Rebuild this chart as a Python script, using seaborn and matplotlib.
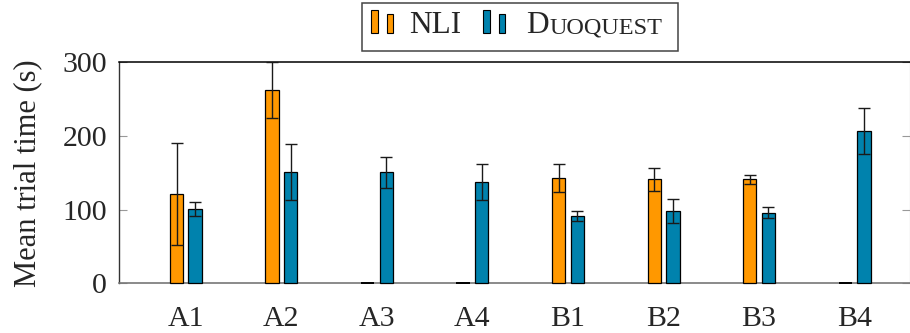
import numpy as np
import pandas as pd
import matplotlib
matplotlib.use("Agg")
import matplotlib.pyplot as plt
from matplotlib.patches import Rectangle
import seaborn as sns

# Mean trial time per task, with standard-deviation error bars
categories = ["A1", "A2", "A3", "A4", "B1", "B2", "B3", "B4"]
nli_mean = [121, 263, 0, 0, 143, 141, 141, 0]
nli_err = [69, 38, np.nan, np.nan, 18.5, 15.5, 6, np.nan]
duo_mean = [101, 151, 151, 138, 91, 98, 96, 207]
duo_err = [9.5, 38, 21, 24.5, 6.5, 16.5, 7, 31]
systems = ["NLI", "Duoquest"]
y_ticks = [0, 100, 200, 300]

ORANGE = "#FF9800"
BLUE = "#0082AD"

sns.set_theme(style="white")
plt.rcParams["font.family"] = ["Liberation Serif", "DejaVu Serif"]

df = pd.DataFrame({
    "task": categories * 2,
    "system": [systems[0]] * len(categories) + [systems[1]] * len(categories),
    "time": nli_mean + duo_mean,
})

W, H = 910, 333
fig = plt.figure(figsize=(W / 100, H / 100), dpi=100)
ax = fig.add_axes([119 / W, (H - 283.3) / H, (W - 119) / W, 221 / H])

sns.barplot(data=df, x="task", y="time", hue="system", order=categories,
            hue_order=systems, palette=[ORANGE, BLUE], width=0.39, gap=0.28,
            errorbar=None, edgecolor="black", linewidth=0.9, saturation=1,
            legend=False, ax=ax)

# keep zero-height bars visible as a black stroke on the baseline
for bar in ax.patches:
    bar.set_zorder(3)
    bar.set_clip_on(False)
    if bar.get_height() == 0:
        bar.set_linewidth(1.4)

# error bars placed on the bar centres
for container, errs in zip(ax.containers, [nli_err, duo_err]):
    xs = [b.get_x() + b.get_width() / 2 for b in container]
    ys = [b.get_height() for b in container]
    ax.errorbar(xs, ys, yerr=errs, fmt="none", ecolor="#1a1a1a",
                elinewidth=1.0, capsize=4.2, capthick=1.0, zorder=5)

ax.set_xlim(-0.70, 7.58)
ax.set_ylim(0, 300)
ax.set_yticks(y_ticks)
ax.set_xlabel("")
ax.set_ylabel("Mean trial time (s)", fontsize=22)
ax.yaxis.set_label_coords(-0.097, 0.5)

ax.tick_params(axis="y", direction="in", length=6, width=0.8, color="#999999",
               labelsize=21.5, pad=8.5, right=True, left=True)
ax.tick_params(axis="x", length=0, labelsize=21.5, pad=16)

for side, col, lw in [("top", "black", 1.1), ("left", "#333333", 1.0),
                      ("bottom", "#777777", 1.2), ("right", "#999999", 0.8)]:
    ax.spines[side].set_visible(True)
    ax.spines[side].set_color(col)
    ax.spines[side].set_linewidth(lw)
    ax.spines[side].set_zorder(2)

# legend box drawn in figure pixel coordinates
def fx(px):
    return px / W

def fy(py):
    return 1 - py / H

fig.add_artist(Rectangle((fx(362), fy(51)), fx(678) - fx(362), fy(3) - fy(51),
                         transform=fig.transFigure, facecolor="white",
                         edgecolor="#444444", linewidth=1.1))

def legend_icon(x0, color):
    for (xa, xb, top) in [(x0, x0 + 7, 9.5), (x0 + 16, x0 + 22.5, 13.5)]:
        fig.add_artist(Rectangle((fx(xa), fy(33.3)), fx(xb) - fx(xa),
                                 fy(top) - fy(33.3), transform=fig.transFigure,
                                 facecolor=color, edgecolor="black", linewidth=0.8))

legend_icon(370.5, ORANGE)
legend_icon(482.5, BLUE)

fig.text(fx(409), fy(33.3), "NLI", fontsize=22.5, va="baseline", ha="left")
d_txt = fig.text(fx(526), fy(33.3), "D", fontsize=22.5, va="baseline", ha="left")
renderer = fig.canvas.get_renderer()
d_right = d_txt.get_window_extent(renderer).x1
fig.text(d_right / W + 0.001, fy(33.3), "UOQUEST", fontsize=17.5,
         va="baseline", ha="left")

fig.savefig("out.png", dpi=100)
